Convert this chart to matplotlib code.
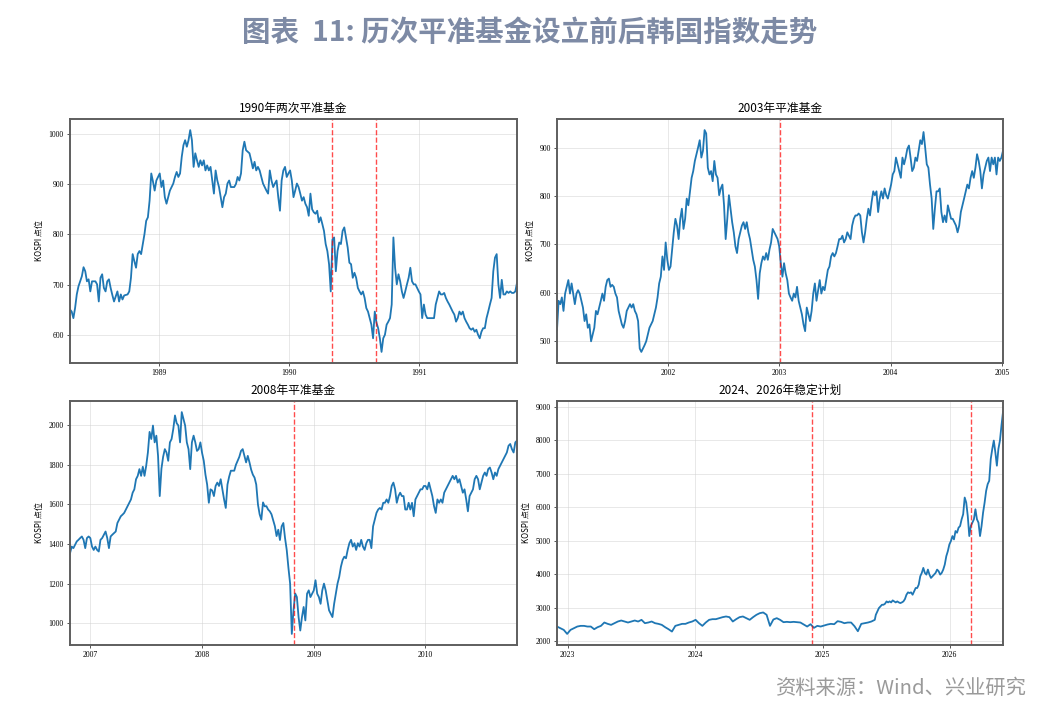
import matplotlib
matplotlib.use("Agg")
import matplotlib.pyplot as plt
import matplotlib.dates as mdates
import pandas as pd

# ---------------- data ----------------
titles = ["1990年两次平准基金", "2003年平准基金", "2008年平准基金", "2024、2026年稳定计划"]

# KOSPI readings, evenly spaced in time between start and end
p1_start, p1_end = "1988-04-27", "1991-10-02"
p1_values = [651,647,634,654,681,697,707,717,735,727,
             707,711,687,707,707,707,701,667,714,721,
             694,687,707,711,694,680,667,677,687,667,
             681,671,679,680,681,687,714,761,747,734,
             761,767,761,781,801,827,834,867,921,905,
             887,907,914,921,894,907,874,861,874,887,
             894,901,914,924,914,921,954,977,987,974,
             987,1007,987,934,961,947,934,947,937,947,
             927,937,927,934,907,881,927,907,894,874,
             854,874,881,901,907,894,894,894,900,914,
             907,921,967,984,967,964,961,947,931,944,
             927,934,927,914,901,894,887,881,927,907,
             894,901,907,874,847,907,927,934,914,921,
             927,907,874,887,901,894,881,867,874,861,
             854,837,881,850,844,841,847,824,834,821,
             807,781,767,741,687,790,794,727,767,784,
             781,807,814,794,774,744,741,714,724,714,
             694,687,681,687,674,654,647,634,621,594,
             647,625,614,594,567,594,601,621,627,634,
             661,794,734,701,721,707,687,674,687,701,
             714,734,707,701,701,694,687,681,634,661,
             641,634,634,634,634,634,661,674,687,681,
             681,684,674,667,661,654,647,641,627,634,
             647,641,647,634,627,621,614,611,614,607,
             611,601,594,607,614,614,634,647,661,674,
             727,754,761,701,674,710,681,681,687,684,
             687,684,684,687,704]
p1_events = ["1990-05-01", "1990-09-01"]

p2_start, p2_end = "2001-01-02", "2005-01-03"
p2_values = [523,583,576,590,562,598,612,626,598,619,598,576,598,605,598,583,569,541,555,527,534,499,513,527,562,555,569,583,598,583,612,626,629,612,616,612,598,590,562,548,534,527,541,562,569,576,569,576,562,555,541,484,477,484,491,499,513,527,534,541,555,569,590,619,633,675,647,704,668,647,654,689,725,753,739,711,753,774,732,753,795,781,810,838,852,873,887,901,916,880,894,937,930,859,845,852,831,873,845,838,802,816,824,781,711,753,802,774,746,725,696,682,711,725,739,746,732,746,725,711,689,668,654,626,587,640,661,675,668,682,668,689,704,732,725,718,711,696,661,633,661,640,626,598,590,583,598,590,612,583,569,555,534,520,569,555,541,562,598,619,583,605,626,598,612,605,626,647,654,675,682,675,682,696,711,711,718,704,711,725,718,711,739,753,760,760,764,760,725,704,725,753,774,760,788,810,802,810,767,795,810,795,816,802,795,810,824,845,852,880,866,852,838,880,866,880,898,905,880,852,859,880,873,894,916,908,933,901,866,859,824,795,732,774,810,810,816,767,746,760,746,781,767,753,753,746,739,725,739,767,781,795,810,824,816,838,852,838,859,887,873,852,816,845,859,873,880,852,880,866,880,845,880,873,880,894]
p2_events = ["2003-01-02"]

p3_start, p3_end = "2006-10-26", "2010-10-28"
p3_values = [1353,1387,1379,1396,1413,1421,1430,1438,1421,1379,
             1430,1438,1430,1387,1370,1387,1370,1362,1421,1430,
             1447,1463,1430,1379,1438,1447,1455,1463,1506,1523,
             1540,1548,1557,1574,1591,1608,1625,1659,1676,1727,
             1744,1778,1744,1790,1744,1795,1862,1966,1930,1998,
             1913,1947,1845,1642,1780,1840,1879,1862,1820,1913,
             1930,1981,2049,2010,1998,1913,2066,2032,1998,1913,
             1879,1778,1913,1947,1913,1870,1879,1913,1860,1820,
             1750,1700,1608,1676,1670,1642,1693,1710,1693,1727,
             1676,1625,1582,1700,1740,1770,1770,1770,1800,1820,
             1840,1870,1879,1845,1812,1845,1812,1775,1750,1735,
             1700,1600,1550,1523,1610,1590,1591,1574,1565,1550,
             1520,1490,1440,1472,1420,1489,1506,1430,1370,1280,
             1200,946,1065,1150,1132,1031,963,1031,1082,1014,
             1149,1166,1132,1149,1166,1217,1149,1132,1098,1166,
             1200,1166,1115,1065,1048,1031,1098,1149,1200,1234,
             1285,1319,1336,1328,1370,1404,1421,1387,1404,1370,
             1404,1387,1421,1387,1370,1404,1421,1421,1379,1489,
             1523,1557,1574,1582,1574,1608,1608,1625,1608,1642,
             1693,1710,1676,1608,1642,1659,1642,1642,1574,1574,
             1608,1574,1608,1540,1625,1642,1659,1676,1676,1693,
             1693,1676,1710,1676,1642,1591,1557,1625,1608,1625,
             1608,1659,1676,1693,1710,1727,1744,1727,1744,1710,
             1727,1693,1659,1676,1625,1565,1642,1659,1676,1727,
             1744,1727,1676,1710,1744,1761,1744,1778,1786,1761,
             1727,1761,1744,1778,1795,1812,1829,1845,1862,1896,
             1905,1879,1862,1913,1922]
p3_events = ["2008-10-28"]

p4a_start, p4a_end = "2022-12-01", "2025-05-31"
p4a_values = [2440,2390,2340,2220,2340,2390,2440,2460,2460,2440,2440,2360,2420,2460,2560,2520,2490,2540,2590,2620,2590,2560,2590,2620,2590,2640,2540,2560,2590,2540,2520,2490,2420,2360,2290,2460,2490,2520,2520,2560,2590,2640,2540,2460,2560,2640,2660,2660,2690,2720,2740,2720,2590,2660,2720,2740,2690,2640,2720,2790,2840,2860,2790,2460,2650,2690,2640,2570,2580,2570,2580,2570,2560,2500,2440,2510,2400,2460,2440,2470,2500,2520,2510,2600,2580,2540,2560,2560,2450,2300,2520,2540,2560,2590,2640]
p4b_start, p4b_end = "2025-06-03", "2026-06-03"
p4b_values = [2790,2890,2990,3040,3090,3090,3120,3190,3160,3190,3160,3220,3190,3160,3190,3160,3140,3160,3190,3260,3390,3460,3440,3460,3390,3490,3590,3590,3690,3940,4040,4190,4040,3990,4140,3990,3890,3940,3990,4040,4140,4090,3990,4040,4140,4290,4540,4690,4890,4990,5140,5040,5290,5240,5390,5440,5640,5790,6290,6140,5740,5140,5440,5540,5640,5940,5640,5540,5140,5440,5840,6140,6490,6690,6790,7440,7740,7990,7640,7240,7740,7990,8440,8840]
p4_events = ["2024-12-03", "2026-03-03"]

main_title = "图表  11: 历次平准基金设立前后韩国指数走势"
source_text = "资料来源：Wind、兴业研究"
ylabel = "KOSPI 点位"

# ---------------- build series ----------------
s1 = pd.Series(p1_values, index=pd.date_range(p1_start, p1_end, periods=len(p1_values)))
s2 = pd.Series(p2_values, index=pd.date_range(p2_start, p2_end, periods=len(p2_values)))
s3 = pd.Series(p3_values, index=pd.date_range(p3_start, p3_end, periods=len(p3_values)))
s4 = pd.concat([
    pd.Series(p4a_values, index=pd.date_range(p4a_start, p4a_end, periods=len(p4a_values))),
    pd.Series(p4b_values, index=pd.date_range(p4b_start, p4b_end, periods=len(p4b_values))),
])
series = [s1, s2, s3, s4]
events = [p1_events, p2_events, p3_events, p4_events]

# ---------------- figure ----------------
fig = plt.figure(figsize=(10.49, 7.19), dpi=100)
fig.patch.set_facecolor("white")

cjk = ["Noto Sans CJK SC", "DejaVu Sans"]
serif = ["Liberation Serif", "DejaVu Serif"]

W, H = 1049, 719
boxes = [(70, 119, 517, 363), (557, 119, 1003, 363),
         (70, 401, 517, 645), (557, 401, 1003, 645)]

for i, (l, t, r, b) in enumerate(boxes):
    ax = fig.add_axes([l / W, 1 - b / H, (r - l) / W, (b - t) / H])
    s = series[i]
    ax.plot(s.index, s.values, color="#1f77b4", lw=1.3)
    for ev in events[i]:
        ax.axvline(pd.Timestamp(ev), color="red", ls="--", lw=1.0, alpha=0.7)
    ax.set_xlim(s.index[0], s.index[-1])
    ax.margins(y=0.05)
    ax.xaxis.set_major_locator(mdates.YearLocator())
    ax.xaxis.set_major_formatter(mdates.DateFormatter("%Y"))
    ax.grid(True, color="#d0d0d0", alpha=0.5, lw=0.7)
    for sp in ax.spines.values():
        sp.set_color("#5e5e5e")
        sp.set_linewidth(1.4)
    ax.tick_params(axis="both", labelsize=5.5, length=2.5, width=0.7,
                   color="#555555", pad=2)
    for lab in ax.get_xticklabels() + ax.get_yticklabels():
        lab.set_fontfamily(serif)
    ax.set_ylabel(ylabel, fontsize=5.8, family=cjk, labelpad=3)
    ax.set_title(titles[i], fontsize=8.5, family=cjk, pad=5)

fig.text(530 / W, 1 - 33 / H, main_title, ha="center", va="center",
         fontsize=20.5, fontweight="bold", color="#7d8aa5", family=cjk)
fig.text(1027 / W, 1 - 688 / H, source_text, ha="right", va="center",
         fontsize=14.6, color="#9a9a9a", family=cjk)

fig.savefig("out.png", dpi=100)
